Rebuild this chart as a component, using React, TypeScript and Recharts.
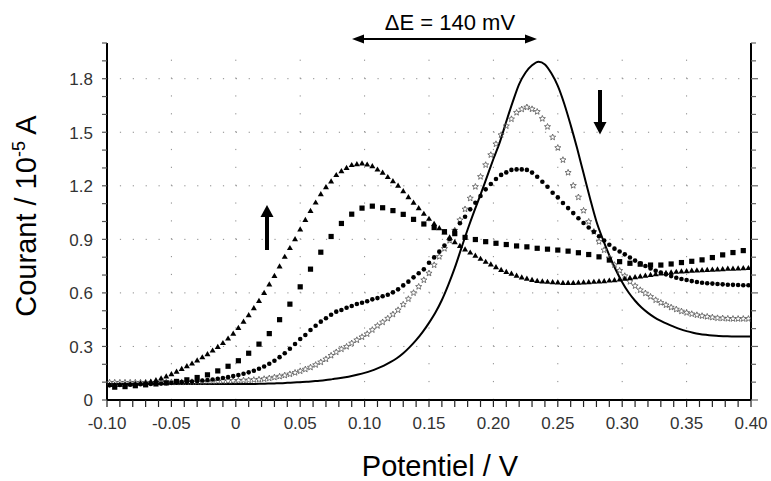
import React from "react";
import { ComposedChart, Line, XAxis, YAxis, ReferenceLine } from "recharts";

const W = 771;
const H = 481;

// potentiel du premier point et pas (V) pour chaque série
const markStart = -0.098;
const markStep = 0.004;
const sqStart = -0.094;
const sqStep = 0.008;
const lineStart = -0.1;
const lineStep = 0.005;

// courant / 1e-5 A
const triangles = [
    0.085, 0.086, 0.087, 0.088, 0.089, 0.091, 0.094, 0.098, 0.104, 0.112,
    0.122, 0.133, 0.146, 0.160, 0.175, 0.190, 0.205, 0.222, 0.240, 0.258,
    0.278, 0.298, 0.320, 0.345, 0.372, 0.405, 0.440, 0.476, 0.515, 0.556,
    0.601, 0.648, 0.696, 0.749, 0.803, 0.852, 0.902, 0.956, 1.010, 1.060,
    1.107, 1.154, 1.193, 1.225, 1.261, 1.283, 1.301, 1.317, 1.322, 1.326,
    1.320, 1.311, 1.292, 1.274, 1.250, 1.227, 1.201, 1.171, 1.137, 1.106,
    1.076, 1.044, 1.016, 0.988, 0.963, 0.940, 0.912, 0.885, 0.864, 0.844,
    0.827, 0.809, 0.792, 0.775, 0.760, 0.745, 0.730, 0.718, 0.708, 0.697,
    0.687, 0.680, 0.673, 0.668, 0.665, 0.663, 0.661, 0.659, 0.657, 0.657,
    0.657, 0.658, 0.659, 0.661, 0.663, 0.665, 0.667, 0.670, 0.672, 0.676,
    0.680, 0.685, 0.689, 0.693, 0.697, 0.702, 0.706, 0.710, 0.713, 0.716,
    0.719, 0.721, 0.723, 0.725, 0.727, 0.728, 0.729, 0.731, 0.732, 0.734,
    0.736, 0.737, 0.738, 0.739, 0.740
];

const circles = [
    0.082, 0.083, 0.084, 0.085, 0.086, 0.087, 0.088, 0.089, 0.090, 0.091,
    0.092, 0.094, 0.096, 0.098, 0.100, 0.101, 0.103, 0.106, 0.109, 0.112,
    0.115, 0.119, 0.123, 0.128, 0.134, 0.140, 0.147, 0.155, 0.164, 0.175,
    0.188, 0.203, 0.220, 0.240, 0.262, 0.287, 0.314, 0.342, 0.364, 0.392,
    0.416, 0.439, 0.458, 0.478, 0.495, 0.504, 0.517, 0.527, 0.538, 0.545,
    0.553, 0.564, 0.571, 0.581, 0.590, 0.603, 0.620, 0.642, 0.663, 0.687,
    0.710, 0.732, 0.769, 0.799, 0.831, 0.865, 0.902, 0.948, 0.990, 1.027,
    1.068, 1.105, 1.143, 1.180, 1.210, 1.238, 1.261, 1.275, 1.289, 1.292,
    1.292, 1.289, 1.274, 1.251, 1.223, 1.195, 1.161, 1.135, 1.104, 1.075,
    1.047, 1.018, 0.992, 0.966, 0.942, 0.917, 0.893, 0.870, 0.848, 0.832,
    0.816, 0.798, 0.781, 0.766, 0.751, 0.737, 0.724, 0.714, 0.704, 0.694,
    0.685, 0.678, 0.672, 0.666, 0.661, 0.657, 0.654, 0.652, 0.650, 0.648,
    0.646, 0.645, 0.644, 0.643, 0.643
];

const stars = [
    0.098, 0.098, 0.098, 0.098, 0.098, 0.098, 0.098, 0.098, 0.098, 0.098,
    0.099, 0.099, 0.100, 0.100, 0.100, 0.101, 0.101, 0.102, 0.102, 0.103,
    0.104, 0.105, 0.106, 0.107, 0.108, 0.109, 0.110, 0.111, 0.113, 0.115,
    0.118, 0.122, 0.127, 0.132, 0.138, 0.145, 0.153, 0.162, 0.172, 0.183,
    0.197, 0.212, 0.229, 0.249, 0.268, 0.285, 0.299, 0.318, 0.336, 0.353,
    0.370, 0.393, 0.416, 0.436, 0.457, 0.480, 0.504, 0.535, 0.566, 0.600,
    0.635, 0.672, 0.710, 0.756, 0.803, 0.848, 0.893, 0.950, 1.008, 1.069,
    1.130, 1.195, 1.251, 1.317, 1.373, 1.434, 1.485, 1.535, 1.574, 1.610,
    1.629, 1.640, 1.630, 1.615, 1.576, 1.531, 1.472, 1.413, 1.345, 1.274,
    1.201, 1.136, 1.061, 0.999, 0.943, 0.887, 0.840, 0.795, 0.757, 0.725,
    0.695, 0.663, 0.639, 0.616, 0.598, 0.579, 0.560, 0.545, 0.532, 0.519,
    0.508, 0.497, 0.489, 0.482, 0.476, 0.471, 0.467, 0.463, 0.459, 0.458,
    0.456, 0.455, 0.455, 0.455, 0.455
];

const squares = [
    0.072, 0.075, 0.080, 0.085, 0.090, 0.096, 0.104, 0.113, 0.126, 0.141,
    0.163, 0.189, 0.220, 0.262, 0.313, 0.372, 0.450, 0.537, 0.634, 0.733,
    0.828, 0.916, 0.989, 1.041, 1.075, 1.086, 1.077, 1.061, 1.040, 1.012,
    0.986, 0.966, 0.943, 0.932, 0.911, 0.899, 0.887, 0.878, 0.871, 0.863,
    0.858, 0.850, 0.845, 0.840, 0.834, 0.825, 0.815, 0.802, 0.784, 0.775,
    0.766, 0.761, 0.756, 0.756, 0.762, 0.770, 0.777, 0.785, 0.798, 0.813,
    0.826, 0.837
];

const solid = [
    0.090, 0.090, 0.090, 0.090, 0.090, 0.090, 0.090, 0.090, 0.090, 0.090,
    0.090, 0.090, 0.090, 0.090, 0.090, 0.090, 0.090, 0.090, 0.090, 0.090,
    0.090, 0.090, 0.090, 0.090, 0.091, 0.092, 0.093, 0.094, 0.096, 0.098,
    0.100, 0.102, 0.105, 0.108, 0.112, 0.117, 0.122, 0.128, 0.135, 0.143,
    0.152, 0.163, 0.177, 0.193, 0.212, 0.234, 0.262, 0.296, 0.335, 0.380,
    0.432, 0.490, 0.560, 0.645, 0.740, 0.848, 0.955, 1.055, 1.150, 1.250,
    1.350, 1.445, 1.560, 1.670, 1.770, 1.835, 1.875, 1.895, 1.880, 1.830,
    1.760, 1.660, 1.540, 1.410, 1.270, 1.130, 1.000, 0.900, 0.810, 0.730,
    0.660, 0.602, 0.556, 0.518, 0.488, 0.463, 0.443, 0.426, 0.411, 0.397,
    0.386, 0.377, 0.370, 0.365, 0.361, 0.358, 0.357, 0.356, 0.356, 0.356,
    0.356
];

const xMajor = [-0.1, -0.05, 0, 0.05, 0.1, 0.15, 0.2, 0.25, 0.3, 0.35, 0.4];
const xLabels = ["-0.10", "-0.05", "0", "0.05", "0.10", "0.15", "0.20", "0.25", "0.30", "0.35", "0.40"];
const yMajor = [0, 0.3, 0.6, 0.9, 1.2, 1.5, 1.8];
const yLabels = ["0", "0.3", "0.6", "0.9", "1.2", "1.5", "1.8"];

const xTicks = Array.from({ length: 51 }, (_, k) => Math.round((-0.1 + k * 0.01) * 100) / 100);
const yTicks = Array.from({ length: 21 }, (_, k) => Math.round(k * 0.1 * 10) / 10);

const triData = triangles.map((i, k) => ({ v: markStart + k * markStep, i }));
const circData = circles.map((i, k) => ({ v: markStart + k * markStep, i }));
const starData = stars.map((i, k) => ({ v: markStart + k * markStep, i }));
const sqData = squares.map((i, k) => ({ v: sqStart + k * sqStep, i }));
const solidData = solid.map((i, k) => ({ v: lineStart + k * lineStep, i }));

const FONT = "'Liberation Sans', Arial, sans-serif";

function majorIndex(list: number[], value: number) {
    return list.findIndex(m => Math.abs(m - value) < 1e-6);
}

const XTick = (props: any) => {
    const { x, y, payload } = props;
    const idx = majorIndex(xMajor, payload.value);
    return <g>
        <line x1={x} y1={y} x2={x} y2={y + 7} stroke="#222" strokeWidth={1.2} />
        {idx >= 0 && <text x={x} y={y + 29} textAnchor="middle" fontSize={17} fill="#333" fontFamily={FONT}>{xLabels[idx]}</text>}
    </g>;
};

const YTickL = (props: any) => {
    const { x, y, payload } = props;
    const idx = majorIndex(yMajor, payload.value);
    return <g>
        <line x1={x - 5} y1={y} x2={x} y2={y} stroke="#555" strokeWidth={1.2} />
        {idx >= 0 && <text x={x - 14} y={y + 6.3} textAnchor="end" fontSize={17} fill="#333" fontFamily={FONT}>{yLabels[idx]}</text>}
    </g>;
};

const YTickR = (props: any) => {
    const { x, y, payload } = props;
    const idx = majorIndex(yMajor, payload.value);
    return <line x1={x} y1={y} x2={x + (idx >= 0 ? 7 : 5)} y2={y} stroke="#666" strokeWidth={1.2} />;
};

const triDot = (p: any) => <path key={`t${p.index}`} d={`M${p.cx},${p.cy - 3}L${p.cx + 3},${p.cy + 2.2}L${p.cx - 3},${p.cy + 2.2}Z`} fill="#000" />;
const sqDot = (p: any) => <rect key={`s${p.index}`} x={p.cx - 2.6} y={p.cy - 2.6} width={5.2} height={5.2} fill="#000" />;
const circDot = (p: any) => <circle key={`c${p.index}`} cx={p.cx} cy={p.cy} r={2.3} fill="#000" />;
const starDot = (p: any) => {
    let d = "";
    for (let n = 0; n < 10; n++) {
        const r = n % 2 === 0 ? 3.2 : 1.4;
        const a = -Math.PI / 2 + n * Math.PI / 5;
        d += `${n === 0 ? "M" : "L"}${(p.cx + r * Math.cos(a)).toFixed(2)},${(p.cy + r * Math.sin(a)).toFixed(2)}`;
    }
    return <path key={`e${p.index}`} d={d + "Z"} fill="none" stroke="#555" strokeWidth={0.8} />;
};

export default function App() {
    return <div style={{ position: "absolute", left: 0, top: 0, width: W, height: H, background: "#fff" }}>
        <ComposedChart width={W} height={H} margin={{ top: 43, right: 0, bottom: 41, left: 47 }}>
            <XAxis dataKey="v" type="number" domain={[-0.1, 0.4]} allowDataOverflow ticks={xTicks} interval={0}
                height={40} tickSize={0} tickMargin={0} tickLine={false} tick={<XTick />}
                axisLine={{ stroke: "#000", strokeWidth: 2 }} />
            <YAxis yAxisId="l" type="number" domain={[0, 2]} allowDataOverflow ticks={yTicks} interval={0}
                width={60} tickSize={0} tickMargin={0} tickLine={false} tick={<YTickL />}
                axisLine={{ stroke: "#000", strokeWidth: 2 }} />
            <YAxis yAxisId="r" orientation="right" type="number" domain={[0, 2]} allowDataOverflow ticks={yTicks} interval={0}
                width={20} tickSize={0} tickMargin={0} tickLine={false} tick={<YTickR />}
                axisLine={{ stroke: "#000", strokeWidth: 2 }} />
            {/* grille pointillée */}
            {yMajor.filter(v => v > 0).map(v =>
                <ReferenceLine key={`gy${v}`} yAxisId="l" y={v} stroke="#8a8a8a" strokeWidth={1} strokeDasharray="1.2 11.68" />)}
            {xMajor.filter(v => v > -0.1 && v < 0.4).map(v =>
                <ReferenceLine key={`gx${v}`} yAxisId="l" x={v} stroke="#8a8a8a" strokeWidth={1} strokeDasharray="1.2 16.65" />)}
            <ReferenceLine yAxisId="r" y={2} stroke="none" />
            <Line yAxisId="l" data={solidData} dataKey="i" type="monotone" stroke="#000" strokeWidth={2} dot={false} activeDot={false} isAnimationActive={false} />
            <Line yAxisId="l" data={starData} dataKey="i" stroke="none" dot={starDot} activeDot={false} isAnimationActive={false} />
            <Line yAxisId="l" data={circData} dataKey="i" stroke="none" dot={circDot} activeDot={false} isAnimationActive={false} />
            <Line yAxisId="l" data={sqData} dataKey="i" stroke="none" dot={sqDot} activeDot={false} isAnimationActive={false} />
            <Line yAxisId="l" data={triData} dataKey="i" stroke="none" dot={triDot} activeDot={false} isAnimationActive={false} />
        </ComposedChart>
        <svg width={W} height={H} style={{ position: "absolute", left: 0, top: 0, pointerEvents: "none" }} fontFamily={FONT}>
            <text x={450} y={30} textAnchor="middle" fontSize={22} fill="#000">ΔE = 140 mV</text>
            <line x1={362} y1={39} x2={527} y2={39} stroke="#000" strokeWidth={2} />
            <polygon points="352,39 364,34.5 364,43.5" fill="#000" />
            <polygon points="537,39 525,34.5 525,43.5" fill="#000" />
            {/* flèche montante */}
            <rect x={265} y={216} width={4} height={34} fill="#000" />
            <polygon points="267,205 260.5,217 273.5,217" fill="#000" />
            {/* flèche descendante */}
            <rect x={598} y={90} width={4} height={33} fill="#000" />
            <polygon points="600,134.5 593.5,122 606.5,122" fill="#000" />
            <text transform="translate(36,216) rotate(-90)" textAnchor="middle" fontSize={29} fill="#000">
                Courant / 10<tspan fontSize={18} dy={-11}>-5</tspan><tspan dy={11}> A</tspan>
            </text>
            <text x={440} y={476} textAnchor="middle" fontSize={29} fill="#000">Potentiel / V</text>
        </svg>
    </div>;
}
